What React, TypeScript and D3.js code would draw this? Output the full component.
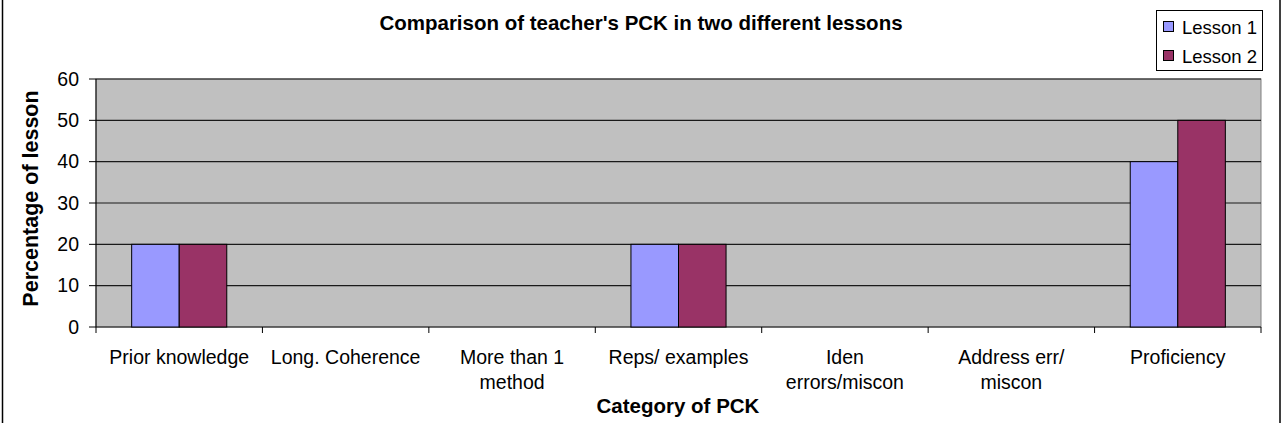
import React from "react";
import * as d3 from "d3";

const categories: string[][] = [
  ["Prior knowledge"],
  ["Long. Coherence"],
  ["More than 1", "method"],
  ["Reps/ examples"],
  ["Iden", "errors/miscon"],
  ["Address err/", "miscon"],
  ["Proficiency"],
];
const seriesNames = ["Lesson 1", "Lesson 2"];
const lesson1 = [20, 0, 0, 20, 0, 0, 40];
const lesson2 = [20, 0, 0, 20, 0, 0, 50];
const yTicks = [0, 10, 20, 30, 40, 50, 60];
const colors = ["#9999FF", "#993366"];

const W = 1288;
const H = 423;
const plot = { left: 96, right: 1261, top: 79, bottom: 327 };
const FONT = "'Liberation Sans', Arial, sans-serif";

export default function App() {
  const x = d3
    .scaleBand<number>()
    .domain(categories.map((_, i) => i))
    .range([plot.left, plot.right])
    .padding(0);
  const bw = x.bandwidth() / 3.5;
  const xs = d3
    .scaleBand<number>()
    .domain([0, 1])
    .range([bw * 0.75, bw * 2.75])
    .padding(0);
  const y = d3.scaleLinear().domain([0, 60]).range([plot.bottom, plot.top]);
  const series = [lesson1, lesson2];
  const boundaries = d3.range(categories.length + 1).map((i) => plot.left + i * x.step());

  return (
    <svg
      width={W}
      height={H}
      style={{ position: "fixed", left: 0, top: 0, background: "#fff" }}
      fontFamily={FONT}
    >
      <rect x={0} y={0} width={W} height={H} fill="#fff" />
      <rect x={2.5} y={-10} width={1277.5} height={H + 20} fill="none" stroke="#000" strokeWidth={1.5} />
      <text x={641} y={30} textAnchor="middle" fontWeight="bold" fontSize={20.5} fill="#000">
        Comparison of teacher's PCK in two different lessons
      </text>

      <rect
        x={plot.left}
        y={plot.top}
        width={plot.right - plot.left}
        height={plot.bottom - plot.top}
        fill="#C0C0C0"
        stroke="#808080"
        strokeWidth={1}
      />
      {yTicks.map((t) => (
        <g key={t}>
          <line x1={plot.left} x2={plot.right} y1={y(t)} y2={y(t)} stroke="#1a1a1a" strokeWidth={1.2} />
          <line x1={89} x2={plot.left} y1={y(t)} y2={y(t)} stroke="#000" strokeWidth={1} />
          <text x={79} y={y(t)} dy="0.35em" textAnchor="end" fontSize={19.5} fill="#000">
            {t}
          </text>
        </g>
      ))}
      <line x1={plot.left} x2={plot.left} y1={plot.top} y2={plot.bottom} stroke="#000" strokeWidth={1} />
      {boundaries.map((b, i) => (
        <line key={i} x1={b} x2={b} y1={plot.bottom} y2={plot.bottom + 6} stroke="#000" strokeWidth={1} />
      ))}

      {series.map((vals, s) =>
        vals.map((v, i) =>
          v > 0 ? (
            <rect
              key={`${s}-${i}`}
              x={(x(i) as number) + (xs(s) as number)}
              y={y(v)}
              width={xs.bandwidth()}
              height={y(0) - y(v)}
              fill={colors[s]}
              stroke="#000"
              strokeWidth={1}
            />
          ) : null
        )
      )}

      {categories.map((lines, i) => (
        <text
          key={i}
          x={(x(i) as number) + x.bandwidth() / 2}
          y={364}
          textAnchor="middle"
          fontSize={19.5}
          fill="#000"
        >
          {lines.map((l, j) => (
            <tspan key={j} x={(x(i) as number) + x.bandwidth() / 2} dy={j === 0 ? 0 : 25}>
              {l}
            </tspan>
          ))}
        </text>
      ))}

      <text x={678} y={413} textAnchor="middle" fontWeight="bold" fontSize={20.5} fill="#000">
        Category of PCK
      </text>
      <text
        transform={`translate(38, 198.5) rotate(-90)`}
        textAnchor="middle"
        fontWeight="bold"
        fontSize={21.5}
        fill="#000"
      >
        Percentage of lesson
      </text>

      <rect x={1156.5} y={10.5} width={106} height={60} fill="#fff" stroke="#000" strokeWidth={1} />
      {seriesNames.map((n, s) => (
        <g key={n}>
          <rect x={1163.5} y={21.5 + s * 29} width={10} height={10} fill={colors[s]} stroke="#000" strokeWidth={1} />
          <text x={1182} y={34 + s * 29} fontSize={18.5} fill="#000">
            {n}
          </text>
        </g>
      ))}
    </svg>
  );
}
